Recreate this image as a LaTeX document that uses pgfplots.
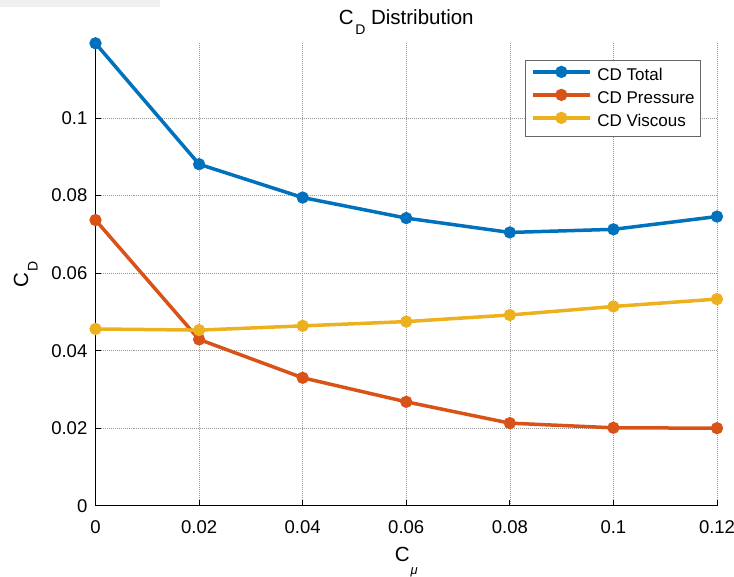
\documentclass[border=0pt]{standalone}
\usepackage{fontspec}
\setmainfont{Liberation Sans}
\usepackage{pgfplots}
\pgfplotsset{compat=1.18}

\definecolor{mblue}{rgb}{0,0.447,0.741}
\definecolor{morange}{rgb}{0.85,0.325,0.098}
\definecolor{myellow}{rgb}{0.929,0.694,0.125}
\definecolor{stripgray}{HTML}{F0F0F0}

% large, deeply dropped subscripts
\newcommand{\lowsub}[1]{\kern0.08em\raisebox{-0.47em}{\fontsize{14}{16}\selectfont #1}}
\newcommand{\musub}{\kern0.05em\raisebox{-0.62em}{\fontsize{13}{15}\selectfont\itshape μ}}

\pgfplotstableread{
cmu     total   pressure viscous
0.00    0.1193  0.0737   0.0456
0.02    0.0881  0.0429   0.0453
0.04    0.0795  0.0330   0.0464
0.06    0.0742  0.0268   0.0475
0.08    0.0705  0.0213   0.0492
0.10    0.0713  0.0201   0.0514
0.12    0.0746  0.0200   0.0533
}\cddata

\begin{document}
\begin{tikzpicture}[x=1pt,y=1pt]
\useasboundingbox (0,0) rectangle (734,576);
\fill[stripgray] (0,568.7) rectangle (160,576);
\begin{axis}[
  at={(95.5pt,70.3pt)}, anchor=south west,
  scale only axis, width=621.5pt, height=462.4pt,
  xmin=0, xmax=0.12, ymin=0, ymax=0.1193,
  axis x line*=bottom, axis y line*=left,
  axis line style={-, black, line width=0.8pt},
  xtick={0,0.02,0.04,0.06,0.08,0.10,0.12},
  xticklabels={0,0.02,0.04,0.06,0.08,0.1,0.12},
  ytick={0,0.02,0.04,0.06,0.08,0.10},
  yticklabels={0,0.02,0.04,0.06,0.08,0.1},
  tick align=inside, major tick length=6pt,
  tick style={black, line width=0.8pt},
  grid=major,
  grid style={black!40, line width=0.6pt, dash pattern=on 1pt off 1pt},
  ticklabel style={font=\fontsize{18.5}{22}\selectfont, inner sep=0pt},
  xticklabel style={anchor=north, yshift=-15pt},
  yticklabel style={anchor=east, xshift=-8pt},
  title={C\lowsub{D} Distribution},
  title style={font=\fontsize{20.5}{24}\selectfont, at={(axis description cs:0.5,1.0275)}, anchor=base, inner sep=0pt},
  xlabel={C\musub},
  xlabel style={font=\fontsize{20.5}{24}\selectfont, at={(axis description cs:0.5,-0.1211)}, anchor=base, inner sep=0pt},
  ylabel={C\lowsub{D}},
  ylabel style={font=\fontsize{20.5}{24}\selectfont, at={(axis description cs:-0.1086,0.5)}, anchor=base, inner sep=0pt},
  legend style={
    at={(axis description cs:0.9743,0.9639)}, anchor=north east,
    draw=black!60, line width=0.8pt, fill=white,
    inner xsep=6pt, inner ysep=5pt,
    font=\fontsize{17}{20}\selectfont,
    nodes={inner sep=0pt, text height=15pt, text depth=5pt},
    row sep=3pt, column sep=5.7pt,
  },
  legend cell align=left,
  legend image code/.code={
    \draw[mark repeat=2, mark phase=2] plot coordinates {(0pt,0.35em) (28.5pt,0.35em) (57pt,0.35em)};
  },
  every axis plot/.append style={line width=3.5pt, mark=*, mark size=4.3pt, mark options={solid, line width=0.4pt}},
]
\addplot[mblue, mark options={fill=mblue}] table[x=cmu, y=total] {\cddata};
\addlegendentry{CD Total}
\addplot[morange, mark options={fill=morange}] table[x=cmu, y=pressure] {\cddata};
\addlegendentry{CD Pressure}
\addplot[myellow, mark options={fill=myellow}] table[x=cmu, y=viscous] {\cddata};
\addlegendentry{CD Viscous}
\end{axis}
\end{tikzpicture}
\end{document}
